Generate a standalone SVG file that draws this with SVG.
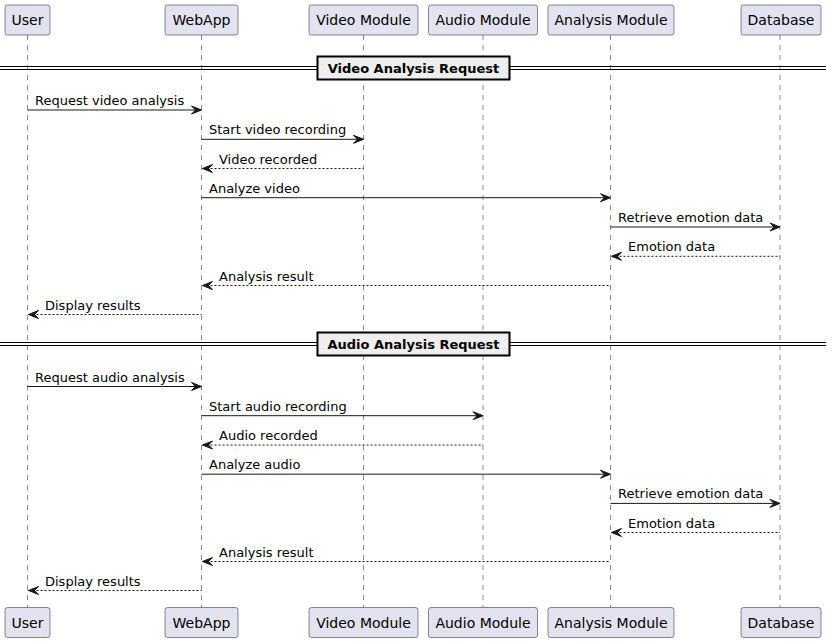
<svg xmlns="http://www.w3.org/2000/svg" width="832" height="642" viewBox="0 0 832 642">
<style>
.pbox{fill:#E2E2F0;stroke:#181818;stroke-width:0.5}
.ptxt{font-family:"DejaVu Sans",sans-serif;font-size:14px;fill:#000;text-anchor:middle}
.life{stroke:#181818;stroke-width:0.5;stroke-dasharray:5,5;fill:none}
.msg{stroke:#181818;stroke-width:1;fill:none}
.ret{stroke:#181818;stroke-width:1;stroke-dasharray:2,2;fill:none}
.mtxt{font-family:"DejaVu Sans",sans-serif;font-size:13px;fill:#000}
.dline{stroke:#000;stroke-width:1}
.dbox{fill:#EEEEEE;stroke:#000;stroke-width:2}
.dtxt{font-family:"DejaVu Sans",sans-serif;font-size:13px;font-weight:bold;fill:#000;text-anchor:middle}
.head{fill:#181818;stroke:#181818;stroke-width:1}
</style>
<defs>
<polygon id="ar" class="head" points="-10,-4 0,0 -10,4 -6,0"/>
<polygon id="al" class="head" points="10,-4 0,0 10,4 6,0"/>
</defs>
<g id="lifelines">
<line class="life" x1="27.5" y1="35" x2="27.5" y2="607.5"/>
<line class="life" x1="201.5" y1="35" x2="201.5" y2="607.5"/>
<line class="life" x1="363.5" y1="35" x2="363.5" y2="607.5"/>
<line class="life" x1="483" y1="35" x2="483" y2="607.5"/>
<line class="life" x1="610.5" y1="35" x2="610.5" y2="607.5"/>
<line class="life" x1="780" y1="35" x2="780" y2="607.5"/>
</g>
<g id="User">
<rect class="pbox" x="5" y="5" width="45" height="30" rx="2.5"/>
<text class="ptxt" x="27.5" y="25">User</text>
<rect class="pbox" x="5" y="607.5" width="45" height="30" rx="2.5"/>
<text class="ptxt" x="27.5" y="627.5">User</text>
</g>
<g id="WebApp">
<rect class="pbox" x="165" y="5" width="73" height="30" rx="2.5"/>
<text class="ptxt" x="201.5" y="25">WebApp</text>
<rect class="pbox" x="165" y="607.5" width="73" height="30" rx="2.5"/>
<text class="ptxt" x="201.5" y="627.5">WebApp</text>
</g>
<g id="VideoModule">
<rect class="pbox" x="309" y="5" width="109" height="30" rx="2.5"/>
<text class="ptxt" x="363.5" y="25">Video Module</text>
<rect class="pbox" x="309" y="607.5" width="109" height="30" rx="2.5"/>
<text class="ptxt" x="363.5" y="627.5">Video Module</text>
</g>
<g id="AudioModule">
<rect class="pbox" x="428.5" y="5" width="109" height="30" rx="2.5"/>
<text class="ptxt" x="483" y="25">Audio Module</text>
<rect class="pbox" x="428.5" y="607.5" width="109" height="30" rx="2.5"/>
<text class="ptxt" x="483" y="627.5">Audio Module</text>
</g>
<g id="AnalysisModule">
<rect class="pbox" x="548" y="5" width="126" height="30" rx="2.5"/>
<text class="ptxt" x="611" y="25">Analysis Module</text>
<rect class="pbox" x="548" y="607.5" width="126" height="30" rx="2.5"/>
<text class="ptxt" x="611" y="627.5">Analysis Module</text>
</g>
<g id="Database">
<rect class="pbox" x="741" y="5" width="80" height="30" rx="2.5"/>
<text class="ptxt" x="781" y="25">Database</text>
<rect class="pbox" x="741" y="607.5" width="80" height="30" rx="2.5"/>
<text class="ptxt" x="781" y="627.5">Database</text>
</g>
<g id="divider1">
<line class="dline" x1="0" y1="66.5" x2="826" y2="66.5"/>
<line class="dline" x1="0" y1="69.5" x2="826" y2="69.5"/>
<rect class="dbox" x="317.5" y="56.5" width="192" height="23"/>
<text class="dtxt" x="413.5" y="72.5">Video Analysis Request</text>
</g>
<g id="divider2">
<line class="dline" x1="0" y1="342.5" x2="826" y2="342.5"/>
<line class="dline" x1="0" y1="345.5" x2="826" y2="345.5"/>
<rect class="dbox" x="317.5" y="332.5" width="192" height="23"/>
<text class="dtxt" x="413.5" y="348.5">Audio Analysis Request</text>
</g>
<g id="connectors">
<line class="msg" x1="27.5" y1="110" x2="200.5" y2="110"/><use href="#ar" x="201.5" y="110"/>
<text class="mtxt" x="35" y="105">Request video analysis</text>
<line class="msg" x1="201.5" y1="139.3" x2="362.5" y2="139.3"/><use href="#ar" x="363.5" y="139.3"/>
<text class="mtxt" x="209" y="134.3">Start video recording</text>
<line class="ret" x1="202.5" y1="168.5" x2="363.5" y2="168.5"/><use href="#al" x="202.5" y="168.5"/>
<text class="mtxt" x="219" y="163.5">Video recorded</text>
<line class="msg" x1="201.5" y1="197.7" x2="609.5" y2="197.7"/><use href="#ar" x="610.5" y="197.7"/>
<text class="mtxt" x="209" y="192.7">Analyze video</text>
<line class="msg" x1="610.5" y1="227" x2="779" y2="227"/><use href="#ar" x="780" y="227"/>
<text class="mtxt" x="618" y="222">Retrieve emotion data</text>
<line class="ret" x1="611.5" y1="256.3" x2="780" y2="256.3"/><use href="#al" x="611.5" y="256.3"/>
<text class="mtxt" x="628" y="251.3">Emotion data</text>
<line class="ret" x1="202.5" y1="285.5" x2="610.5" y2="285.5"/><use href="#al" x="202.5" y="285.5"/>
<text class="mtxt" x="219" y="280.5">Analysis result</text>
<line class="ret" x1="28.5" y1="314.5" x2="201.5" y2="314.5"/><use href="#al" x="28.5" y="314.5"/>
<text class="mtxt" x="45" y="309.5">Display results</text>

<line class="msg" x1="27.5" y1="386.5" x2="200.5" y2="386.5"/><use href="#ar" x="201.5" y="386.5"/>
<text class="mtxt" x="35" y="381.5">Request audio analysis</text>
<line class="msg" x1="201.5" y1="415.7" x2="482" y2="415.7"/><use href="#ar" x="483" y="415.7"/>
<text class="mtxt" x="209" y="410.7">Start audio recording</text>
<line class="ret" x1="202.5" y1="445" x2="483" y2="445"/><use href="#al" x="202.5" y="445"/>
<text class="mtxt" x="219" y="440">Audio recorded</text>
<line class="msg" x1="201.5" y1="474.2" x2="609.5" y2="474.2"/><use href="#ar" x="610.5" y="474.2"/>
<text class="mtxt" x="209" y="469.2">Analyze audio</text>
<line class="msg" x1="610.5" y1="503.4" x2="779" y2="503.4"/><use href="#ar" x="780" y="503.4"/>
<text class="mtxt" x="618" y="498.4">Retrieve emotion data</text>
<line class="ret" x1="611.5" y1="532.5" x2="780" y2="532.5"/><use href="#al" x="611.5" y="532.5"/>
<text class="mtxt" x="628" y="527.5">Emotion data</text>
<line class="ret" x1="202.5" y1="561.5" x2="610.5" y2="561.5"/><use href="#al" x="202.5" y="561.5"/>
<text class="mtxt" x="219" y="556.5">Analysis result</text>
<line class="ret" x1="28.5" y1="590.5" x2="201.5" y2="590.5"/><use href="#al" x="28.5" y="590.5"/>
<text class="mtxt" x="45" y="585.5">Display results</text>
</g>
</svg>
